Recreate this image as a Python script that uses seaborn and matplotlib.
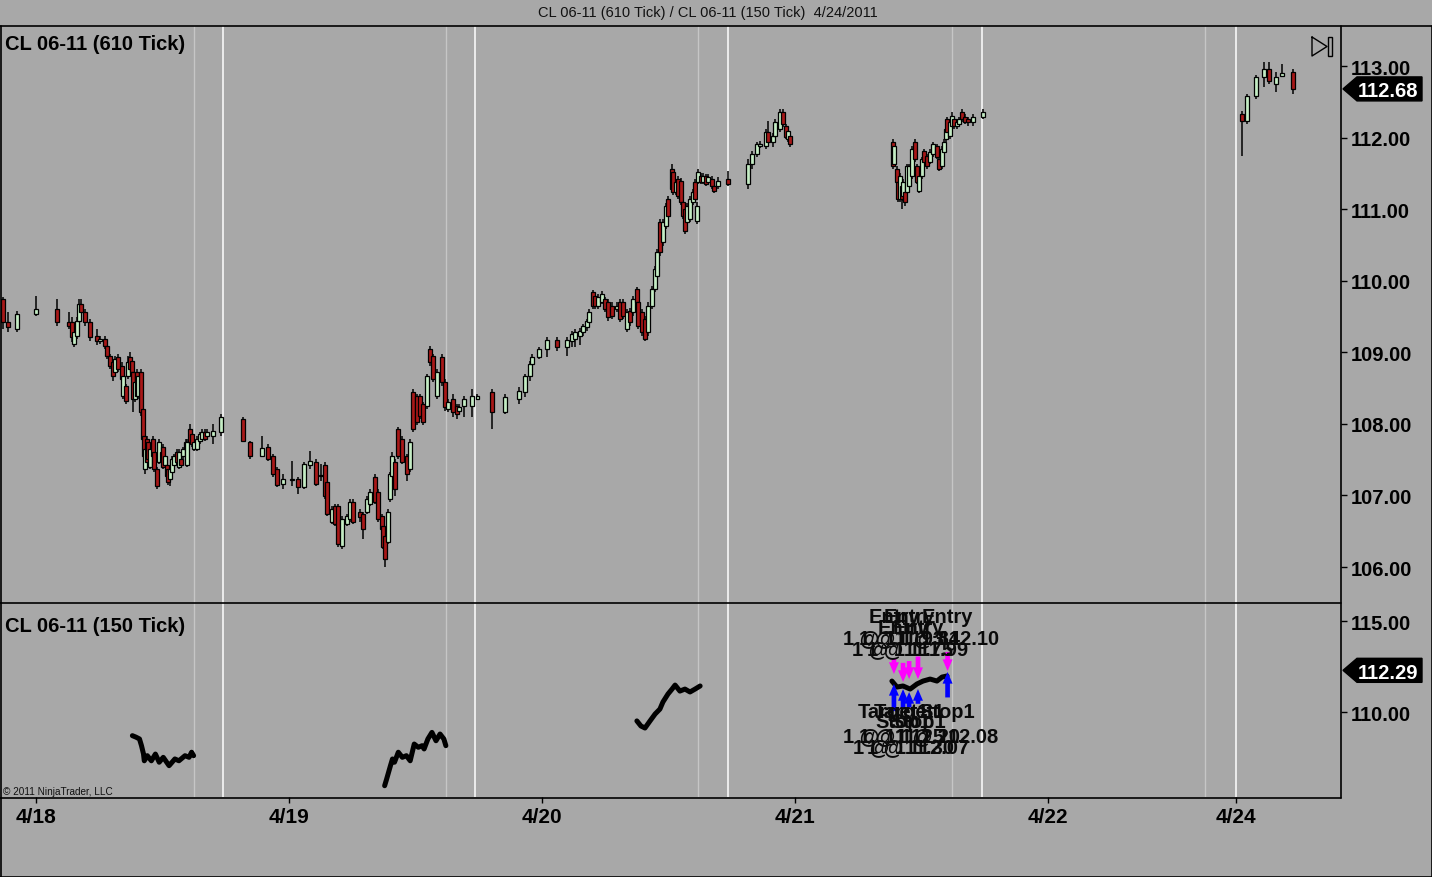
import numpy as np
import pandas as pd
import matplotlib
matplotlib.use("Agg")
import matplotlib.pyplot as plt
import seaborn as sns
from matplotlib.patches import Polygon, Rectangle
from matplotlib.lines import Line2D
from matplotlib.transforms import IdentityTransform

# ---------------- data ----------------
# time axis: trading days since 4/18 00:00 (weekend compressed)
date_tick_pos = [0, 1, 2, 3, 4, 4.743]
date_tick_labels = ["4/18", "4/19", "4/20", "4/21", "4/22", "4/24"]
session_open = [0.739, 1.735, 2.735, 3.739, 4.743]
session_close = [0.625, 1.621, 2.617, 3.621, 4.621]

price_ticks_top = [106, 107, 108, 109, 110, 111, 112, 113]
price_ticks_bottom = [110, 115]

# 610 tick candles: (time, open, high, low, close)
bars_apr18 = [
    (-0.130, 109.74, 109.77, 109.33, 109.42), (-0.111, 109.42, 109.56, 109.28, 109.35),
    (-0.075, 109.33, 109.58, 109.28, 109.53), (0.000, 109.53, 109.79, 109.51, 109.60),
    (0.083, 109.60, 109.74, 109.37, 109.42), (0.130, 109.42, 109.56, 109.33, 109.37),
    (0.142, 109.42, 109.49, 109.14, 109.21), (0.150, 109.12, 109.33, 109.07, 109.28),
    (0.162, 109.23, 109.49, 109.19, 109.44), (0.170, 109.44, 109.74, 109.40, 109.67),
    (0.178, 109.67, 109.74, 109.51, 109.56), (0.194, 109.56, 109.60, 109.37, 109.42),
    (0.213, 109.42, 109.46, 109.16, 109.21), (0.241, 109.23, 109.33, 109.10, 109.16),
    (0.253, 109.16, 109.23, 109.12, 109.19), (0.273, 109.19, 109.23, 109.05, 109.09),
    (0.281, 109.09, 109.12, 108.91, 108.95), (0.292, 108.95, 108.98, 108.77, 108.81),
    (0.304, 108.86, 108.91, 108.60, 108.67), (0.312, 108.72, 108.95, 108.67, 108.91),
    (0.324, 108.93, 108.98, 108.72, 108.77), (0.340, 108.81, 108.86, 108.58, 108.63),
    (0.344, 108.39, 108.70, 108.35, 108.67), (0.356, 108.53, 108.56, 108.28, 108.32),
    (0.364, 108.67, 108.95, 108.63, 108.86), (0.372, 108.93, 109.00, 108.72, 108.77),
    (0.379, 108.88, 108.91, 108.65, 108.72), (0.383, 108.72, 108.77, 108.17, 108.35),
    (0.391, 108.35, 108.63, 108.31, 108.58), (0.399, 108.72, 108.77, 108.35, 108.39),
    (0.403, 108.39, 108.72, 108.35, 108.67), (0.415, 108.72, 108.77, 108.11, 108.17),
    (0.423, 108.21, 108.25, 107.75, 107.79), (0.427, 107.83, 107.86, 107.48, 107.55),
    (0.431, 107.37, 107.72, 107.30, 107.65), (0.439, 107.79, 107.83, 107.42, 107.47),
    (0.443, 107.75, 107.79, 107.44, 107.51), (0.451, 107.40, 107.68, 107.37, 107.65),
    (0.462, 107.79, 107.83, 107.51, 107.55), (0.466, 107.60, 107.65, 107.33, 107.37),
    (0.478, 107.37, 107.40, 107.09, 107.13), (0.486, 107.47, 107.79, 107.44, 107.75),
    (0.498, 107.60, 107.65, 107.42, 107.47), (0.502, 107.68, 107.72, 107.37, 107.40),
    (0.510, 107.42, 107.60, 107.40, 107.55), (0.518, 107.42, 107.47, 107.23, 107.27),
    (0.522, 107.37, 107.40, 107.15, 107.19), (0.530, 107.23, 107.40, 107.13, 107.37),
    (0.538, 107.33, 107.55, 107.30, 107.51), (0.545, 107.42, 107.58, 107.40, 107.55),
    (0.557, 107.60, 107.65, 107.44, 107.47), (0.565, 107.40, 107.65, 107.37, 107.60),
    (0.573, 107.51, 107.55, 107.40, 107.42), (0.581, 107.55, 107.68, 107.51, 107.65),
    (0.593, 107.65, 107.79, 107.62, 107.75), (0.597, 107.42, 107.79, 107.40, 107.75),
    (0.609, 107.93, 108.00, 107.72, 107.75), (0.617, 107.86, 107.89, 107.68, 107.72),
    (0.625, 107.65, 107.79, 107.62, 107.75), (0.636, 107.65, 107.83, 107.62, 107.79),
    (0.648, 107.76, 107.89, 107.72, 107.86), (0.656, 107.79, 107.93, 107.76, 107.89),
    (0.668, 107.89, 107.93, 107.76, 107.79), (0.676, 107.83, 107.93, 107.79, 107.89),
    (0.700, 107.83, 108.00, 107.72, 107.90), (0.731, 107.89, 108.14, 107.83, 108.10),
]
bars_apr19 = [
    (0.818, 108.07, 108.10, 107.75, 107.76), (0.846, 107.75, 107.76, 107.51, 107.55),
    (0.893, 107.55, 107.83, 107.54, 107.66), (0.917, 107.68, 107.72, 107.48, 107.51),
    (0.937, 107.55, 107.58, 107.26, 107.30), (0.953, 107.37, 107.40, 107.12, 107.15),
    (0.976, 107.16, 107.30, 107.09, 107.23), (1.012, 107.21, 107.48, 107.13, 107.23),
    (1.036, 107.23, 107.26, 107.02, 107.12), (1.059, 107.12, 107.47, 107.09, 107.44),
    (1.083, 107.42, 107.62, 107.37, 107.48), (1.107, 107.47, 107.51, 107.13, 107.16),
    (1.126, 107.27, 107.44, 107.20, 107.29), (1.142, 107.42, 107.47, 106.95, 106.99),
    (1.150, 107.19, 107.23, 106.71, 106.74), (1.170, 106.63, 106.85, 106.60, 106.81),
    (1.182, 106.85, 106.88, 106.57, 106.60), (1.194, 106.85, 106.88, 106.28, 106.32),
    (1.209, 106.29, 106.71, 106.25, 106.67), (1.229, 106.60, 106.74, 106.57, 106.71),
    (1.241, 106.67, 106.95, 106.63, 106.91), (1.253, 106.91, 106.95, 106.60, 106.63),
    (1.281, 106.77, 106.81, 106.63, 106.70), (1.292, 106.74, 106.77, 106.39, 106.53),
    (1.308, 106.77, 106.99, 106.74, 106.95), (1.320, 106.88, 107.09, 106.85, 107.05),
    (1.340, 107.26, 107.30, 106.88, 106.91), (1.352, 107.05, 107.09, 106.63, 106.67),
    (1.368, 106.71, 106.74, 106.49, 106.53), (1.372, 106.57, 106.60, 106.25, 106.28),
    (1.379, 106.43, 106.46, 106.00, 106.11), (1.391, 106.35, 106.81, 106.32, 106.77),
    (1.399, 106.95, 107.33, 106.91, 107.30), (1.407, 107.27, 107.60, 107.23, 107.55),
    (1.419, 107.47, 107.51, 106.99, 107.09), (1.431, 107.93, 107.96, 107.51, 107.55),
    (1.447, 107.79, 107.83, 107.44, 107.47), (1.466, 107.55, 107.58, 107.20, 107.30),
    (1.478, 107.37, 107.79, 107.33, 107.75), (1.490, 108.44, 108.49, 107.89, 107.93),
    (1.506, 108.39, 108.42, 107.98, 108.03), (1.518, 108.39, 108.42, 108.07, 108.11),
    (1.530, 108.28, 108.31, 107.98, 108.03), (1.545, 108.25, 108.70, 108.21, 108.67),
    (1.557, 109.05, 109.09, 108.81, 108.86), (1.569, 108.95, 108.98, 108.58, 108.63),
    (1.585, 108.39, 108.77, 108.35, 108.72), (1.605, 108.93, 108.98, 108.53, 108.58),
    (1.617, 108.58, 108.63, 108.18, 108.24), (1.628, 108.21, 108.35, 108.17, 108.31),
    (1.648, 108.35, 108.42, 108.10, 108.17), (1.664, 108.25, 108.28, 108.07, 108.14),
    (1.672, 108.18, 108.28, 108.14, 108.24), (1.692, 108.25, 108.39, 108.10, 108.35),
    (1.723, 108.25, 108.49, 108.10, 108.39), (1.745, 108.35, 108.42, 108.33, 108.39),
]
bars_apr20 = [
    (1.802, 108.44, 108.49, 107.93, 108.17), (1.854, 108.17, 108.42, 108.14, 108.38),
    (1.909, 108.35, 108.51, 108.28, 108.46), (1.933, 108.44, 108.70, 108.38, 108.67),
    (1.953, 108.67, 108.88, 108.60, 108.84), (1.960, 108.84, 108.98, 108.79, 108.93),
    (1.988, 108.93, 109.07, 108.91, 109.05), (2.020, 109.05, 109.21, 108.93, 109.17),
    (2.059, 109.17, 109.21, 109.02, 109.07), (2.099, 109.07, 109.21, 108.95, 109.17),
    (2.119, 109.16, 109.30, 109.07, 109.26), (2.130, 109.19, 109.33, 109.07, 109.28),
    (2.150, 109.23, 109.34, 109.10, 109.30), (2.162, 109.28, 109.40, 109.23, 109.37),
    (2.178, 109.35, 109.47, 109.30, 109.44), (2.186, 109.42, 109.60, 109.38, 109.56),
    (2.202, 109.84, 109.87, 109.60, 109.65), (2.209, 109.79, 109.81, 109.60, 109.65),
    (2.221, 109.65, 109.81, 109.60, 109.77), (2.237, 109.70, 109.86, 109.67, 109.81),
    (2.249, 109.74, 109.77, 109.56, 109.60), (2.261, 109.70, 109.74, 109.44, 109.49),
    (2.277, 109.65, 109.70, 109.46, 109.51), (2.296, 109.60, 109.70, 109.56, 109.65),
    (2.308, 109.70, 109.74, 109.42, 109.46), (2.320, 109.70, 109.74, 109.46, 109.51),
    (2.336, 109.33, 109.60, 109.28, 109.56), (2.348, 109.58, 109.62, 109.37, 109.42),
    (2.360, 109.56, 109.79, 109.51, 109.74), (2.375, 109.88, 109.91, 109.65, 109.70),
    (2.379, 109.70, 109.74, 109.33, 109.37), (2.395, 109.56, 109.60, 109.23, 109.28),
    (2.407, 109.46, 109.51, 109.16, 109.19), (2.419, 109.28, 109.70, 109.23, 109.65),
    (2.435, 109.65, 109.93, 109.60, 109.88), (2.447, 109.88, 110.20, 109.84, 110.16),
    (2.455, 110.07, 110.45, 110.03, 110.40), (2.466, 110.82, 110.86, 110.35, 110.40),
    (2.478, 110.54, 110.86, 110.49, 110.82), (2.490, 110.76, 111.08, 110.72, 111.04),
    (2.498, 111.14, 111.18, 110.86, 110.90), (2.514, 111.56, 111.63, 111.24, 111.28),
    (2.518, 111.52, 111.56, 111.20, 111.24), (2.530, 111.24, 111.42, 111.20, 111.38),
    (2.538, 111.42, 111.46, 111.14, 111.18), (2.549, 111.40, 111.44, 111.06, 111.10),
    (2.557, 111.10, 111.14, 110.86, 110.90), (2.565, 111.00, 111.04, 110.65, 110.69),
    (2.573, 110.82, 111.08, 110.79, 111.04), (2.585, 110.86, 111.18, 110.82, 111.14),
    (2.597, 111.10, 111.28, 111.06, 111.24), (2.605, 111.38, 111.42, 111.10, 111.14),
    (2.613, 110.83, 111.10, 110.79, 111.04), (2.617, 111.38, 111.56, 111.35, 111.52),
    (2.628, 111.46, 111.50, 111.35, 111.38), (2.636, 111.38, 111.50, 111.35, 111.46),
    (2.648, 111.46, 111.49, 111.32, 111.35), (2.656, 111.38, 111.49, 111.35, 111.45),
    (2.672, 111.42, 111.46, 111.28, 111.32), (2.680, 111.32, 111.36, 111.22, 111.25),
    (2.696, 111.32, 111.45, 111.28, 111.39), (2.735, 111.42, 111.53, 111.32, 111.35),
]
bars_apr21 = [
    (2.814, 111.35, 111.70, 111.28, 111.63), (2.830, 111.63, 111.81, 111.56, 111.77),
    (2.850, 111.77, 111.94, 111.73, 111.91), (2.862, 111.88, 111.95, 111.85, 111.91),
    (2.885, 111.88, 112.12, 111.84, 112.08), (2.893, 112.08, 112.23, 111.91, 111.94),
    (2.913, 111.94, 112.06, 111.87, 112.02), (2.921, 112.02, 112.26, 111.98, 112.22),
    (2.941, 112.12, 112.40, 112.08, 112.36), (2.953, 112.36, 112.40, 112.15, 112.19),
    (2.964, 112.16, 112.19, 111.98, 112.01), (2.972, 111.98, 112.12, 111.94, 112.09),
    (2.980, 112.02, 112.05, 111.87, 111.91),
    (3.387, 111.94, 111.98, 111.56, 111.60), (3.391, 111.63, 111.91, 111.60, 111.88),
    (3.403, 111.56, 111.60, 111.35, 111.38), (3.407, 111.38, 111.42, 111.10, 111.14),
    (3.415, 111.14, 111.50, 111.10, 111.46), (3.423, 111.32, 111.36, 111.00, 111.14),
    (3.427, 111.18, 111.42, 111.12, 111.38), (3.435, 111.24, 111.28, 111.04, 111.10),
    (3.443, 111.24, 111.63, 111.20, 111.60), (3.451, 111.32, 111.63, 111.28, 111.60),
    (3.462, 111.46, 111.88, 111.42, 111.84), (3.474, 111.94, 111.98, 111.66, 111.70),
    (3.482, 111.60, 111.63, 111.35, 111.38), (3.490, 111.25, 111.50, 111.22, 111.46),
    (3.502, 111.46, 111.73, 111.42, 111.70), (3.510, 111.81, 111.84, 111.63, 111.66),
    (3.522, 111.74, 111.77, 111.56, 111.60), (3.534, 111.66, 111.84, 111.63, 111.80),
    (3.545, 111.77, 111.94, 111.73, 111.91), (3.561, 111.88, 111.91, 111.70, 111.73),
    (3.569, 111.70, 111.73, 111.53, 111.56), (3.581, 111.60, 111.88, 111.56, 111.84),
    (3.589, 111.80, 111.98, 111.77, 111.94), (3.597, 111.98, 112.16, 111.94, 112.12),
    (3.601, 112.26, 112.29, 112.05, 112.08), (3.613, 112.02, 112.26, 111.98, 112.22),
    (3.621, 112.16, 112.36, 112.12, 112.30), (3.628, 112.26, 112.29, 112.12, 112.16),
    (3.640, 112.16, 112.26, 112.12, 112.22), (3.648, 112.19, 112.29, 112.16, 112.26),
    (3.660, 112.36, 112.40, 112.22, 112.26), (3.672, 112.29, 112.33, 112.19, 112.22),
    (3.684, 112.26, 112.29, 112.16, 112.22), (3.704, 112.22, 112.33, 112.16, 112.29),
    (3.743, 112.29, 112.40, 112.26, 112.36),
]
bars_apr24 = [
    (4.767, 112.33, 112.37, 111.74, 112.23), (4.787, 112.23, 112.61, 112.19, 112.58),
    (4.822, 112.58, 112.87, 112.54, 112.85), (4.854, 112.85, 113.06, 112.71, 112.96),
    (4.874, 112.96, 113.06, 112.75, 112.79), (4.901, 112.75, 112.92, 112.64, 112.85),
    (4.925, 112.86, 113.03, 112.85, 112.90), (4.968, 112.92, 112.96, 112.61, 112.68),
]
last_price_top = 112.68

# 150 tick line (close prices)
line150_apr18_t = [0.381, 0.395, 0.409, 0.417, 0.425, 0.428, 0.440, 0.456, 0.472, 0.487,
                   0.503, 0.526, 0.549, 0.565, 0.589, 0.605, 0.615, 0.623]
line150_apr18_p = [108.70, 108.62, 108.52, 108.15, 107.69, 107.32, 107.60, 107.32, 107.69, 107.24,
                   107.51, 107.05, 107.42, 107.32, 107.60, 107.51, 107.79, 107.60]
line150_apr19_t = [1.378, 1.386, 1.401, 1.409, 1.417, 1.432, 1.448, 1.464, 1.479, 1.495,
                   1.511, 1.526, 1.534, 1.549, 1.565, 1.581, 1.597, 1.612, 1.620]
line150_apr19_p = [105.95, 106.32, 107.05, 107.42, 107.24, 107.79, 107.51, 107.60, 107.32, 108.24,
                   108.06, 108.15, 107.97, 108.52, 108.88, 108.42, 108.79, 108.52, 108.15]
line150_apr20_t = [2.375, 2.391, 2.407, 2.427, 2.447, 2.466, 2.478, 2.498, 2.514, 2.526,
                   2.545, 2.565, 2.585, 2.605, 2.625]
line150_apr20_p = [109.51, 109.23, 109.12, 109.51, 109.89, 110.16, 110.55, 110.99, 111.26, 111.48,
                   111.15, 111.26, 111.10, 111.26, 111.43]
line150_apr21_t = [3.383, 3.403, 3.427, 3.455, 3.482, 3.506, 3.534, 3.561, 3.581, 3.601]
line150_apr21_p = [111.70, 111.37, 111.43, 111.26, 111.54, 111.70, 111.81, 111.70, 111.92, 111.98]
last_price_bottom = 112.29

# trade executions on the 150 tick panel
trade_t = [3.391, 3.427, 3.451, 3.486, 3.603]
short_arrow_from = [112.95, 112.70, 112.80, 113.05, 113.30]
short_arrow_to = [112.09, 111.65, 111.81, 111.81, 112.25]
cover_arrow_from = [110.05, 110.20, 110.25, 110.45, 110.80]
cover_arrow_to = [111.54, 111.26, 111.10, 111.26, 112.20]
entry_labels = ["1 @ 111.93", "1 @ 111.75", "1 @ 111.84", "1 @ 111.99", "1 @ 112.10"]
exit_names = ["Target1", "Stop1", "Target1", "Stop1", "Stop1"]
exit_labels = ["1 @ 111.25", "1 @ 111.30", "1 @ 111.20", "1 @ 112.07", "1 @ 112.08"]

title = "CL 06-11 (610 Tick) / CL 06-11 (150 Tick)  4/24/2011"
panel_top_label = "CL 06-11 (610 Tick)"
panel_bottom_label = "CL 06-11 (150 Tick)"
copyright_text = "\u00a9 2011 NinjaTrader, LLC"

# ---------------- style ----------------
sns.set_style("white")
plt.rcParams['font.family'] = ['Liberation Sans', 'DejaVu Sans']
BG = "#a8a8a8"
UP = "#c4ecc4"
DOWN = "#a81818"
FS = 14.5

W, H = 1432, 878
fig = plt.figure(figsize=(W / 100, H / 100), dpi=100, facecolor=BG)


def fx(px):
    return px / W


def fy(py):
    return 1 - py / H


ax1 = fig.add_axes([fx(1), fy(604), 1340 / W, 577 / H], facecolor=BG)
ax2 = fig.add_axes([fx(1), fy(798), 1340 / W, 194 / H], facecolor=BG, sharex=ax1)

XL = (-0.1383, 5.158)
ax1.set_xlim(*XL)
ax1.set_ylim(105.497, 113.559)
ax2.set_ylim(105.33, 115.989)

for ax in (ax1, ax2):
    for s in ax.spines.values():
        s.set_visible(False)
    for x in session_close:
        ax.axvline(x, color="#c6c6c6", lw=1, zorder=1)
    for x in session_open:
        ax.axvline(x, color="white", lw=1.1, zorder=1)
    ax.grid(False)

# candles
frames = []
for rows in [bars_apr18, bars_apr19, bars_apr20, bars_apr21, bars_apr24]:
    frames.append(pd.DataFrame(rows, columns=["t", "o", "h", "l", "c"]))
bars = pd.concat(frames, ignore_index=True)
up = bars["c"] >= bars["o"]
ax1.vlines(bars["t"], bars["l"], bars["h"], color="black", lw=1.1, zorder=2)
body_lo = np.minimum(bars["o"], bars["c"])
body_h = np.maximum(np.abs(bars["c"] - bars["o"]), 0.015)
ax1.bar(bars["t"], body_h, bottom=body_lo, width=0.0135,
        color=np.where(up, UP, DOWN), edgecolor="black", linewidth=0.9, zorder=3)

# 150 tick line with seaborn
line_df = pd.concat([
    pd.DataFrame({"t": line150_apr18_t, "p": line150_apr18_p, "seg": 0}),
    pd.DataFrame({"t": line150_apr19_t, "p": line150_apr19_p, "seg": 1}),
    pd.DataFrame({"t": line150_apr20_t, "p": line150_apr20_p, "seg": 2}),
    pd.DataFrame({"t": line150_apr21_t, "p": line150_apr21_p, "seg": 3}),
], ignore_index=True)
sns.lineplot(data=line_df, x="t", y="p", units="seg", estimator=None, sort=False,
             color="black", linewidth=3.6, ax=ax2, zorder=4)
ax2.set_xlabel("")
ax2.set_ylabel("")

# trade arrows and labels
astyle = "simple,head_length=0.7,head_width=0.6,tail_width=0.28"
for i, t in enumerate(trade_t):
    ax2.annotate("", xy=(t, short_arrow_to[i]), xytext=(t, short_arrow_from[i]),
                 arrowprops=dict(arrowstyle=astyle, color="#ff00ff", lw=0, mutation_scale=12,
                                 shrinkA=0, shrinkB=0), zorder=5)
    ax2.annotate("", xy=(t, cover_arrow_to[i]), xytext=(t, cover_arrow_from[i]),
                 arrowprops=dict(arrowstyle=astyle, color="#0000ff", lw=0, mutation_scale=12,
                                 shrinkA=0, shrinkB=0), zorder=5)
    lvl = i % 2
    kw = dict(ha="center", va="center", fontsize=FS, fontweight="bold", color="#0a0a0a", zorder=6)
    ax2.text(t, 115.27 - 0.6 * lvl, "Entry", **kw)
    ax2.text(t, 114.07 - 0.6 * lvl, entry_labels[i], **kw)
    ax2.text(t, 110.05 - 0.55 * lvl, exit_names[i], **kw)
    ax2.text(t, 108.68 - 0.6 * lvl, exit_labels[i], **kw)

# axes ticks
ax1.yaxis.tick_right()
ax1.set_yticks(price_ticks_top)
ax1.set_yticklabels([f"{v:.2f}" for v in price_ticks_top], fontweight="bold")
ax2.yaxis.tick_right()
ax2.set_yticks(price_ticks_bottom)
ax2.set_yticklabels([f"{v:.2f}" for v in price_ticks_bottom], fontweight="bold")
for ax in (ax1, ax2):
    ax.tick_params(axis="y", right=True, left=False, length=4.5, width=1, pad=2.5,
                   labelsize=FS, colors="black", direction="out")
ax1.tick_params(axis="x", bottom=False, labelbottom=False)
ax2.set_xticks(date_tick_pos)
ax2.set_xticklabels(date_tick_labels, fontweight="bold")
ax2.tick_params(axis="x", bottom=True, length=4, width=1, pad=3.5, labelsize=FS + 0.5,
                colors="black", direction="out")
ax2.set_xlim(*XL)


# frame lines (figure layout)
def fline(x0, y0, x1, y1, lw=1.2):
    fig.add_artist(Line2D([fx(x0), fx(x1)], [fy(y0), fy(y1)], color="black", lw=lw,
                          transform=fig.transFigure))


fline(0, 27, W, 27)
fline(0, 604, 1341, 604)
fline(0, 798.5, 1341, 798.5)
fline(1341, 27, 1341, 798.5)
fline(0.5, 27, 0.5, H)
fline(W - 0.5, 27, W - 0.5, H)
fline(0, H - 0.5, W, H - 0.5)


# price markers
def price_marker(ax, price):
    fig.canvas.draw()
    yc = ax.transData.transform((0, price))[1]
    x0, x1 = 1343, 1422
    hh = 12
    verts = [(x0, yc), (x0 + 14, yc + hh), (x1, yc + hh), (x1, yc - hh), (x0 + 14, yc - hh)]
    fig.add_artist(Polygon(verts, closed=True, facecolor="black", edgecolor="black",
                           transform=IdentityTransform()))
    fig.text(fx(1388), yc / H, f"{price:.2f}", color="white", fontsize=FS, fontweight="bold",
             ha="center", va="center_baseline")


price_marker(ax1, last_price_top)
price_marker(ax2, last_price_bottom)

# icon  ▷|
fig.add_artist(Line2D([fx(1312), fx(1312), fx(1327), fx(1312)],
                      [fy(38), fy(57), fy(47.5), fy(38)], color="black", lw=1,
                      transform=fig.transFigure))
fig.add_artist(Rectangle((fx(1327.5), fy(57)), 4 / W, 19 / H, fill=False, edgecolor="black",
                         lw=1, transform=fig.transFigure))

# texts
fig.text(fx(708), fy(13), title, ha="center", va="center", fontsize=10.5, color="#111111")
fig.text(fx(5), fy(44), panel_top_label, ha="left", va="center", fontsize=14.5,
         fontweight="bold", color="black")
fig.text(fx(5), fy(627), panel_bottom_label, ha="left", va="center", fontsize=14.5,
         fontweight="bold", color="black")
fig.text(fx(3), fy(792), copyright_text, ha="left", va="center", fontsize=7.2, color="#111111")

fig.savefig("out.png", dpi=100, facecolor=BG)
